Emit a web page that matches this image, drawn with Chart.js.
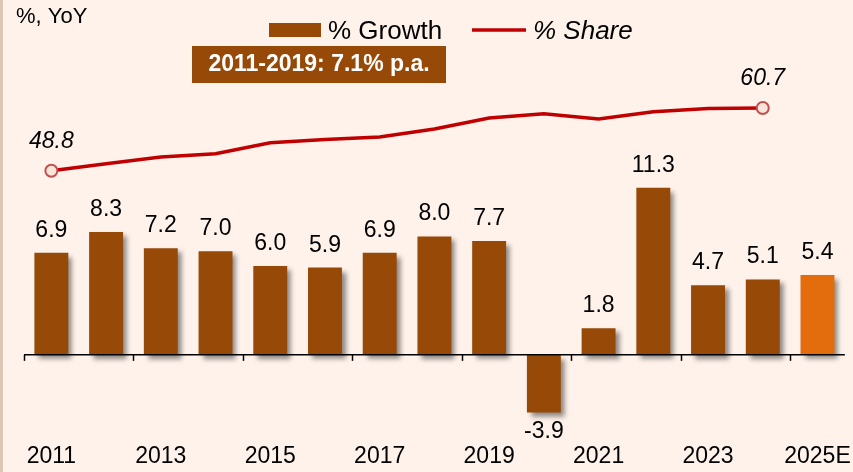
<!DOCTYPE html>
<html>
<head>
<meta charset="utf-8">
<script src="https://cdn.jsdelivr.net/npm/chart.js@4.4.1/dist/chart.umd.min.js"></script>
<style>
  html, body { margin: 0; padding: 0; background: #fef2eb; }
  #wrap { width: 853px; height: 472px; position: relative; box-sizing: border-box; border-left: 3px solid #dcc6b4; }
</style>
</head>
<body>
<div id="wrap"><canvas id="grafico"></canvas></div>
<script>
// dati
const anni = ["2011", "2012", "2013", "2014", "2015", "2016", "2017", "2018", "2019", "2020", "2021", "2022", "2023", "2024", "2025E"];
const crescita = [6.9, 8.3, 7.2, 7.0, 6.0, 5.9, 6.9, 8.0, 7.7, -3.9, 1.8, 11.3, 4.7, 5.1, 5.4];
const quota = [48.8, 50.1, 51.4, 52.0, 54.1, 54.7, 55.2, 56.7, 58.8, 59.6, 58.6, 60.0, 60.6, 60.7, null];
const coloriBarre = ["#974a08", "#974a08", "#974a08", "#974a08", "#974a08", "#974a08", "#974a08", "#974a08", "#974a08", "#974a08", "#974a08", "#974a08", "#974a08", "#974a08", "#e36c0c"];
const notaTesto = "2011-2019: 7.1% p.a.";

const FONT = "'Liberation Sans', Arial, sans-serif";

// ombra sotto le barre
const ombraBarre = {
  id: "ombraBarre",
  beforeDatasetDraw(chart, args) {
    if (args.index !== 0) return;
    const ctx = chart.ctx;
    ctx.save();
    ctx.shadowColor = "rgba(0,0,0,0.45)";
    ctx.shadowBlur = 5;
    ctx.shadowOffsetX = 4;
    ctx.shadowOffsetY = 4;
  },
  afterDatasetDraw(chart, args) {
    if (args.index !== 0) return;
    chart.ctx.restore();
  }
};

// asse dello zero, etichette, legenda e nota
const decorazioni = {
  id: "decorazioni",
  afterDatasetsDraw(chart) {
    const ctx = chart.ctx;
    const x = chart.scales.x;
    const y = chart.scales.y;
    const area = chart.chartArea;
    const y0 = y.getPixelForValue(0);

    ctx.save();
    // linea dello zero
    ctx.strokeStyle = "#000";
    ctx.lineWidth = 1.5;
    ctx.beginPath();
    ctx.moveTo(area.left, y0);
    ctx.lineTo(area.right, y0);
    ctx.stroke();
    const passo = x.getPixelForValue(1) - x.getPixelForValue(0);
    for (let k = 0; k < anni.length; k += 2) {
      const px = Math.round(x.getPixelForValue(k) - passo / 2) + 0.5;
      ctx.beginPath();
      ctx.moveTo(px, y0);
      ctx.lineTo(px, y0 + 6);
      ctx.stroke();
    }

    // etichette delle barre
    ctx.fillStyle = "#000";
    ctx.font = "23px " + FONT;
    ctx.textAlign = "center";
    const barre = chart.getDatasetMeta(0).data;
    barre.forEach((b, i) => {
      const v = crescita[i];
      if (v >= 0) {
        ctx.textBaseline = "alphabetic";
        ctx.fillText(v.toFixed(1), b.x, b.y - 16);
      } else {
        ctx.textBaseline = "top";
        ctx.fillText(v.toFixed(1), b.x, b.y + 8);
      }
    });

    // etichette della linea (primo e ultimo punto)
    const punti = chart.getDatasetMeta(1).data;
    ctx.font = "italic 23px " + FONT;
    ctx.textBaseline = "alphabetic";
    [0, 13].forEach((i) => {
      const p = punti[i];
      ctx.fillText(quota[i].toFixed(1), p.x, p.y - 23);
    });

    // titolo asse
    ctx.textAlign = "left";
    ctx.font = "22px " + FONT;
    ctx.fillText("%, YoY", 13, 23);

    // legenda
    ctx.fillStyle = "#974a08";
    ctx.fillRect(266, 23, 52, 14);
    ctx.fillStyle = "#000";
    ctx.font = "26px " + FONT;
    ctx.fillText("% Growth", 325, 39);
    ctx.strokeStyle = "#c00000";
    ctx.lineWidth = 3.5;
    ctx.beginPath();
    ctx.moveTo(469, 30);
    ctx.lineTo(523, 30);
    ctx.stroke();
    ctx.font = "italic 26px " + FONT;
    ctx.fillText("% Share", 530, 39);

    // nota
    ctx.fillStyle = "#974a08";
    ctx.fillRect(189, 46, 254, 37);
    ctx.fillStyle = "#fff";
    ctx.font = "bold 23px " + FONT;
    ctx.textAlign = "center";
    ctx.textBaseline = "middle";
    ctx.fillText(notaTesto, 316, 65);
    ctx.restore();
  }
};

const ctx = document.getElementById("grafico").getContext("2d");
new Chart(ctx, {
  data: {
    labels: anni,
    datasets: [
      {
        type: "bar",
        label: "% Growth",
        data: crescita,
        backgroundColor: coloriBarre,
        barPercentage: 0.62,
        categoryPercentage: 1,
        yAxisID: "y",
        order: 2
      },
      {
        type: "line",
        label: "% Share",
        data: quota,
        borderColor: "#c00000",
        borderWidth: 3.5,
        pointRadius: (c) => (c.dataIndex === 0 || c.dataIndex === 13 ? 6 : 0),
        pointBackgroundColor: "#fbe4da",
        pointBorderColor: "#c0504d",
        pointBorderWidth: 2,
        tension: 0,
        yAxisID: "y1",
        order: 1
      }
    ]
  },
  options: {
    responsive: true,
    maintainAspectRatio: false,
    animation: false,
    layout: { padding: { left: 21, right: 7, top: 0, bottom: 0 } },
    plugins: {
      legend: { display: false },
      tooltip: { enabled: false }
    },
    scales: {
      x: {
        grid: { display: false, drawTicks: false },
        border: { display: false },
        ticks: {
          autoSkip: false,
          maxRotation: 0,
          padding: 2,
          color: "#000",
          font: { family: FONT, size: 23 },
          callback: function (v, i) { return i % 2 === 0 ? anni[i] : ""; }
        }
      },
      y: {
        display: false,
        min: -5.78,
        max: 23.44
      },
      y1: {
        display: false,
        min: -2.39,
        max: 79.68
      }
    }
  },
  plugins: [ombraBarre, decorazioni]
});
</script>
</body>
</html>
